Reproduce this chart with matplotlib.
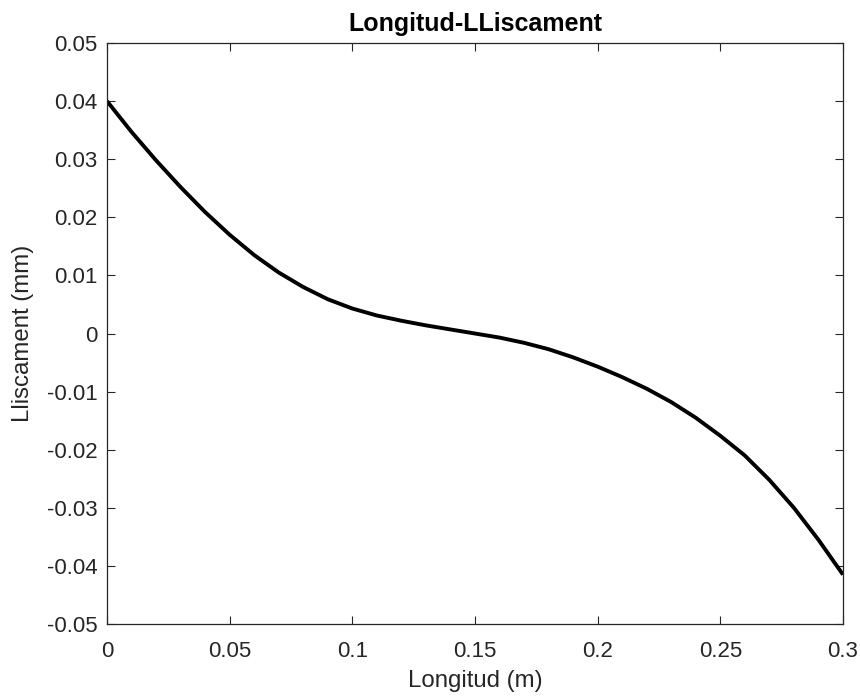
import numpy as np
import matplotlib
matplotlib.use("Agg")
import matplotlib.pyplot as plt

# longitud (m) i lliscament (mm) llegits del grafic
longitud = [0.00, 0.01, 0.02, 0.03, 0.04, 0.05, 0.06, 0.07, 0.08, 0.09,
            0.10, 0.11, 0.12, 0.13, 0.14, 0.15, 0.16, 0.17, 0.18, 0.19,
            0.20, 0.21, 0.22, 0.23, 0.24, 0.25, 0.26, 0.27, 0.28, 0.29, 0.30]
lliscament = [0.0400, 0.0347, 0.0298, 0.0252, 0.0209, 0.0170, 0.0135, 0.0105,
              0.0080, 0.0059, 0.0043, 0.0031, 0.0022, 0.0014, 0.0007, 0.0000,
              -0.0007, -0.0016, -0.0027, -0.0041, -0.0057, -0.0075, -0.0095,
              -0.0118, -0.0145, -0.0176, -0.0210, -0.0252, -0.0300, -0.0355,
              -0.0415]

xticks = [0, 0.05, 0.1, 0.15, 0.2, 0.25, 0.3]
xlabels = ['0', '0.05', '0.1', '0.15', '0.2', '0.25', '0.3']
yticks = [-0.05, -0.04, -0.03, -0.02, -0.01, 0, 0.01, 0.02, 0.03, 0.04, 0.05]
ylabels = ['-0.05', '-0.04', '-0.03', '-0.02', '-0.01', '0',
           '0.01', '0.02', '0.03', '0.04', '0.05']

plt.rcParams['font.family'] = ['Liberation Sans', 'DejaVu Sans']
grey = '#262626'

fig = plt.figure(figsize=(8.6, 6.97), dpi=100)
ax = fig.add_axes([0.1244, 0.1047, 0.8558, 0.8336])

ax.plot(longitud, lliscament, color='black', lw=2.8, solid_capstyle='butt',
        solid_joinstyle='round')

ax.set_xlim(0, 0.3)
ax.set_ylim(-0.05, 0.05)
ax.set_xticks(xticks)
ax.set_xticklabels(xlabels)
ax.set_yticks(yticks)
ax.set_yticklabels(ylabels)

ax.tick_params(direction='in', length=5.5, width=0.8, color=grey,
               labelcolor=grey, labelsize=16, top=True, right=True)
ax.tick_params(axis='x', pad=12)
ax.tick_params(axis='y', pad=7)
for s in ax.spines.values():
    s.set_color(grey)
    s.set_linewidth(0.9)

ax.set_xlabel('Longitud (m)', fontsize=17.3, color=grey, labelpad=6)
ax.set_ylabel('Lliscament (mm)', fontsize=17.3, color=grey, labelpad=9)
ax.set_title('Longitud-LLiscament', fontsize=18, fontweight='bold',
             color='black', pad=9)

fig.savefig('out.png', dpi=100, facecolor='white')
